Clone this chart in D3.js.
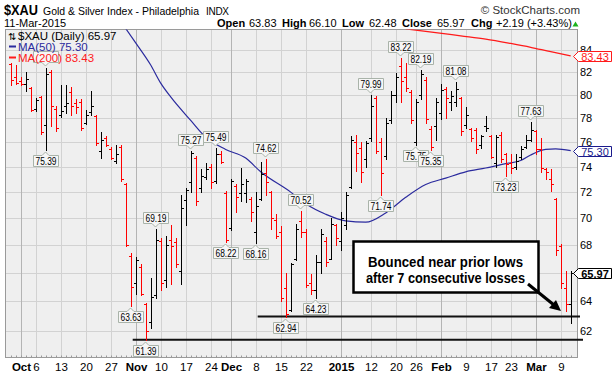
<!DOCTYPE html>
<html><head><meta charset="utf-8">
<script src="https://cdn.jsdelivr.net/npm/d3@7/dist/d3.min.js"></script>
<style>
html,body{margin:0;padding:0;background:#fff;}
svg{display:block;}
text{font-family:"Liberation Sans",Arial,sans-serif;}
</style></head><body>
<svg id="chart" width="613" height="375"></svg>
<script>
// ---------------- DATA ----------------
const startDate = "2014-09-29";
const holidays = ["2014-11-27","2014-12-25","2015-01-01","2015-01-19","2015-02-16"];
const priorClose = 83.0;
const opens = [82.7,81.5,81.2,80.9,80.6,
 78.8,79.8,77.4,82.0,78.8,78.3,79.0,80.2,79.3,79.4,
 77.6,78.5,78.2,75.3,76.3,75.4,74.5,75.6,72.6,67.2,
 65.3,66.4,63.8,62.6,64.4,68.3,65.5,68.4,68.2,66.1,
 71.4,72.8,74.7,72.3,73.2,74.0,72.9,75.0,71.9,69.3,
 72.5,71.9,71.9,71.5,69.0,71.5,73.5,72.0,69.9,69.0,
 64.9,63.4,67.0,69.8,69.0,65.3,64.8,66.8,68.3,67.0,
 69.5,68.3,69.5,72.4,76.0,75.5,74.6,76.3,79.7,76.0,
 74.9,77.8,80.0,82.5,81.5,80.2,76.0,80.0,81.3,77.1,
 77.3,78.4,80.5,79.4,79.4,79.7,77.4,77.1,77.0,75.8,
 77.3,76.5,74.3,76.6,75.0,74.3,74.0,74.8,75.6,76.2,
 76.9,75.4,73.8,73.0,71.5,67.9,64.9,63.83];
const highs = [82.8,82.6,81.5,82.0,80.7,
 79.7,79.9,82.35,82.2,79.0,80.8,80.8,80.7,79.6,79.6,
 78.7,80.3,78.3,76.8,76.5,75.6,75.8,75.8,72.7,67.4,
 67.1,66.6,63.9,65.6,69.19,68.5,68.7,69.5,68.5,71.8,
 72.3,75.27,74.9,73.8,74.3,74.2,75.49,75.3,72.1,73.0,
 72.6,73.9,73.0,71.6,72.0,74.4,74.62,72.1,70.3,69.4,
 66.0,66.7,69.6,70.52,69.2,65.9,67.3,69.2,68.6,70.0,
 69.6,70.5,72.0,76.5,76.6,76.0,76.1,79.99,79.9,76.3,
 78.0,80.3,81.9,83.22,82.8,80.4,79.6,82.19,81.5,77.3,
 79.7,80.9,80.7,80.3,81.08,79.8,78.9,77.2,77.2,76.6,
 78.2,76.6,76.6,76.8,75.1,75.0,75.0,75.7,76.6,77.63,
 77.0,76.3,73.9,73.8,71.55,68.04,66.1,66.10];
const lows = [80.8,80.9,80.8,80.3,78.6,
 78.6,76.7,75.39,77.3,76.9,78.1,78.4,78.3,78.4,77.0,
 77.5,78.3,75.8,74.7,75.7,74.6,74.3,72.9,67.9,63.63,
 64.5,64.4,61.39,62.2,64.2,64.8,65.0,65.2,66.4,65.2,
 69.5,72.0,71.0,72.0,73.0,72.3,72.7,74.3,68.22,69.1,
 70.5,71.3,71.2,69.8,68.16,71.4,71.8,69.2,68.5,64.0,
 62.94,63.3,66.9,68.6,65.0,64.5,64.23,66.0,66.5,67.0,
 68.0,67.6,69.2,72.3,73.7,72.8,74.0,76.1,75.1,71.74,
 74.6,77.6,79.4,79.4,80.3,77.6,75.75,79.6,77.6,75.35,
 76.2,77.9,78.0,78.7,79.0,76.6,77.2,76.1,75.1,75.5,
 76.9,74.7,74.0,74.4,73.23,73.5,73.8,74.6,75.5,76.1,
 75.0,73.6,73.0,72.1,67.3,64.9,63.3,62.48];
const closes = [81.3,81.0,80.9,81.4,78.7,
 79.5,76.8,81.8,79.0,77.2,78.6,79.3,79.0,78.9,77.2,
 78.3,79.0,75.9,76.2,75.8,74.7,75.0,73.0,68.0,65.0,
 66.9,64.5,62.0,64.3,68.4,65.3,68.0,67.9,66.6,70.8,
 72.2,75.1,71.3,73.3,73.8,72.8,75.0,74.4,68.4,72.9,
 71.6,72.6,72.9,70.5,70.9,73.4,72.8,70.0,68.7,64.2,
 63.1,66.6,69.2,69.0,65.1,64.8,66.8,68.8,66.8,69.6,
 68.5,70.0,71.8,76.2,75.1,73.6,75.9,79.0,75.3,73.5,
 77.6,80.0,81.5,81.2,80.6,77.8,79.4,81.8,77.9,75.6,
 79.4,80.4,79.7,79.9,80.5,76.9,78.3,76.3,75.4,76.5,
 77.2,74.8,76.4,74.6,74.2,73.9,74.5,75.4,76.2,77.0,
 75.4,73.9,73.6,72.6,67.6,65.3,63.78,65.97];

const ma50Dates = ["2014-10-24","2014-11-03","2014-11-06","2014-11-10","2014-11-12","2014-11-18","2014-11-21","2014-11-28","2014-12-04","2014-12-09","2014-12-17","2014-12-22","2014-12-29","2015-01-05","2015-01-09","2015-01-15","2015-01-22","2015-01-28","2015-02-03","2015-02-09","2015-02-13","2015-02-20","2015-02-25","2015-02-27","2015-03-04","2015-03-06","2015-03-11"];
const ma50Values = [88.6,84.6,82.6,81.0,79.8,77.8,76.4,75.4,74.7,73.6,72.0,71.1,70.3,69.8,69.7,70.4,71.6,72.6,73.1,73.6,73.9,74.25,74.5,74.95,75.4,75.45,75.30];
const ma200Dates = ["2015-01-22","2015-01-30","2015-02-06","2015-02-13","2015-02-23","2015-02-27","2015-03-05","2015-03-11"];
const ma200Values = [85.9,85.55,85.25,84.95,84.55,84.2,83.8,83.43];

const yTicks = [62,64,66,68,70,72,74,76,78,80,82,84];
const yTickLabels = ["62","64","","68","70","72","74","76","78","80","82","84"];
const xTickDates = ["2014-10-01","2014-10-06","2014-10-13","2014-10-20","2014-10-27","2014-11-03","2014-11-10","2014-11-17","2014-11-24","2014-12-01","2014-12-08","2014-12-15","2014-12-22","2015-01-02","2015-01-12","2015-01-20","2015-01-26","2015-02-02","2015-02-09","2015-02-17","2015-02-23","2015-03-02","2015-03-09"];
const xTickLabels = ["Oct","6","13","20","27","Nov","10","17","24","Dec","8","15","22","2015","12","20","26","Feb","9","17","23","Mar","9"];
const xTickBold = [1,0,0,0,0,1,0,0,0,1,0,0,0,1,0,0,0,1,0,0,0,1,0];

const highMarkDates = ["2014-11-07","2014-11-18","2014-11-25","2014-12-10","2014-12-19","2015-01-12","2015-01-21","2015-01-27","2015-02-05","2015-02-27"];
const hiddenHighMark = "2014-10-08";
const lowMarkDates = ["2014-10-08","2014-10-31","2014-11-05","2014-11-28","2014-12-08","2014-12-16","2014-12-24","2015-01-14","2015-01-26","2015-01-29","2015-02-20"];

const supportLevels = [62.94, 61.39];
const supportFrom = ["2014-12-08","2014-10-31"];
const noteLines = ["Bounced near prior lows","after 7 consecutive losses"];

// ---------------- CHART ----------------
function tradingDays(start, n, hol){
  const out=[]; const d=new Date(start+"T12:00:00Z");
  while(out.length<n){ const wd=d.getUTCDay(); const s=d.toISOString().slice(0,10);
    if(wd!==0&&wd!==6&&!hol.includes(s)) out.push(s); d.setUTCDate(d.getUTCDate()+1);}
  return out;
}
const dates = tradingDays(startDate, opens.length, holidays);
const kOf = d => dates.indexOf(d);

const svg = d3.select("#chart");
const P = {l:5.5, r:577.5, t:29.5, b:357.5};
const x = d3.scaleLinear().domain([0, dates.length-1]).range([10.7, 570.7]);
const y = d3.scaleLog().domain([62,84]).range([330.5,49.5]);
const px = k => Math.round(x(k)) + 0.5;
const py = v => Math.round(y(v)) + 0.5;

svg.append("defs").append("clipPath").attr("id","clip").append("rect")
  .attr("x",P.l).attr("y",P.t).attr("width",P.r-P.l).attr("height",P.b-P.t);

svg.append("rect").attr("x",P.l).attr("y",P.t).attr("width",P.r-P.l).attr("height",P.b-P.t)
  .attr("fill","#efefef");

svg.append("g").selectAll("line").data(yTicks).join("line")
  .attr("x1",P.l).attr("x2",P.r).attr("y1",d=>py(d)).attr("y2",d=>py(d))
  .attr("stroke","#d2d2d2").attr("stroke-width",1);
svg.append("g").selectAll("line").data(xTickDates).join("line")
  .attr("x1",d=>px(kOf(d))).attr("x2",d=>px(kOf(d))).attr("y1",P.t).attr("y2",P.b)
  .attr("stroke",(d,i)=>xTickBold[i]?"#b4b4b4":"#d2d2d2").attr("stroke-width",1);

svg.append("rect").attr("x",P.l).attr("y",P.t).attr("width",P.r-P.l).attr("height",P.b-P.t)
  .attr("fill","none").attr("stroke","#9a9a9a").attr("stroke-width",1);
svg.append("g").selectAll("line").data(dates).join("line")
  .attr("x1",(d,k)=>px(k)).attr("x2",(d,k)=>px(k)).attr("y1",P.b).attr("y2",P.b-2)
  .attr("stroke","#9a9a9a");

const lineGen = d3.line().x(d=>x(kOf(d[0]))).y(d=>y(d[1])).curve(d3.curveMonotoneX);
const gMA = svg.append("g").attr("clip-path","url(#clip)");
gMA.append("path").attr("d",lineGen(ma200Dates.map((d,i)=>[d,ma200Values[i]])))
  .attr("fill","none").attr("stroke","#ff1a1a").attr("stroke-width",1.2);
gMA.append("path").attr("d",lineGen(ma50Dates.map((d,i)=>[d,ma50Values[i]])))
  .attr("fill","none").attr("stroke","#2b2b9e").attr("stroke-width",1.2);

supportLevels.forEach((v,i)=>{
  svg.append("line").attr("x1",x(kOf(supportFrom[i]))+2).attr("x2",i===0?580:583)
    .attr("y1",y(v)).attr("y2",y(v)).attr("stroke","#111").attr("stroke-width",2);
});

const gBars = svg.append("g");
dates.forEach((d,k)=>{
  const prev = k===0?priorClose:closes[k-1];
  const col = closes[k]>=prev ? "#000000" : "#ff0000";
  const xx = px(k);
  gBars.append("line").attr("x1",xx).attr("x2",xx).attr("y1",Math.round(y(highs[k]))).attr("y2",Math.round(y(lows[k]))+1)
    .attr("stroke",col).attr("stroke-width",1);
  gBars.append("line").attr("x1",xx-2.5).attr("x2",xx).attr("y1",py(opens[k])).attr("y2",py(opens[k]))
    .attr("stroke",col).attr("stroke-width",1);
  gBars.append("line").attr("x1",xx).attr("x2",xx+2.5).attr("y1",py(closes[k])).attr("y2",py(closes[k]))
    .attr("stroke",col).attr("stroke-width",1);
});

function callout(k, val, isHigh, showText){
  const cx = px(k)-1;
  const yv = y(val);
  const g = svg.append("g");
  const w = 25, h = 11;
  const l = Math.round(cx-w/2)+0.5, r = l+w;
  let path, ty;
  if(isHigh){
    const b = Math.round(yv-6)+0.5, tp=b-h;
    path = `M${l},${tp}H${r}V${b}H${cx+3.5}L${cx},${b+3.5}L${cx-3.5},${b}H${l}Z`;
    ty = tp+h/2+0.5;
  } else {
    const tp = Math.round(yv+5)+0.5, b=tp+h;
    path = `M${l},${tp}H${cx-3.5}L${cx},${tp-3.5}L${cx+3.5},${tp}H${r}V${b}H${l}Z`;
    ty = tp+h/2+0.5;
  }
  g.append("path").attr("d",path).attr("fill","#f6f6f6").attr("stroke","#a9b3a9").attr("stroke-width",1);
  if(showText) g.append("text").text(val.toFixed(2)).attr("font-size",10).attr("text-anchor","middle")
    .attr("x",(l+r)/2).attr("y",ty).attr("dominant-baseline","central").attr("fill","#000")
    .attr("textLength",21).attr("lengthAdjust","spacingAndGlyphs");
}
callout(kOf(hiddenHighMark), highs[kOf(hiddenHighMark)], true, false);
highMarkDates.forEach(d=>{const k=kOf(d); callout(k, highs[k], true, true);});
lowMarkDates.forEach(d=>{const k=kOf(d); callout(k, lows[k], false, true);});

// annotation box + arrow
svg.append("rect").attr("x",353.5).attr("y",241.5).attr("width",185).attr("height",51)
  .attr("fill","#fff").attr("stroke","#000").attr("stroke-width",2.5);
noteLines.forEach((s,i)=>{
  svg.append("text").text(s).attr("x",445.5).attr("y",[261.5,277.5][i]).attr("dominant-baseline","central")
    .attr("text-anchor","middle").attr("font-weight","bold").attr("font-size",15)
    .attr("textLength",[155,159][i]).attr("lengthAdjust","spacingAndGlyphs");
});
svg.append("line").attr("x1",528).attr("y1",284).attr("x2",554).attr("y2",305)
  .attr("stroke","#000").attr("stroke-width",3);
svg.append("path").attr("d","M561,311 L549,308 L556,300 Z").attr("fill","#000");

// legend
svg.append("text").text("⇅").attr("x",8).attr("y",39.5).attr("font-size",10).attr("font-family","DejaVu Sans");
svg.append("text").text("$XAU (Daily) 65.97").attr("x",18).attr("y",39.5).attr("font-size",11.5);
svg.append("line").attr("x1",9).attr("x2",16).attr("y1",46.5).attr("y2",46.5).attr("stroke","#2b2b9e").attr("stroke-width",2);
svg.append("text").text("MA(50) 75.30").attr("x",18).attr("y",50.5).attr("font-size",11.5).attr("fill","#2b2b9e");
svg.append("line").attr("x1",9).attr("x2",16).attr("y1",57.5).attr("y2",57.5).attr("stroke","#ff1a1a").attr("stroke-width",2);
svg.append("text").text("MA(200) 83.43").attr("x",18).attr("y",61.5).attr("font-size",11.5).attr("fill","#ff1a1a");

// y axis labels
svg.append("g").selectAll("text").data(yTicks).join("text")
  .text((d,i)=>yTickLabels[i]).attr("x",580).attr("y",d=>y(d)).attr("dominant-baseline","central")
  .attr("font-size",11).attr("fill","#000");

function tag(v, col, bold){
  const yc = Math.round(y(v))+0.5;
  svg.append("path").attr("d",`M573.5,${yc}L578.5,${yc-5}H611.5V${yc+5}H578.5Z`)
    .attr("fill","#fff").attr("stroke",col).attr("stroke-width",1);
  svg.append("text").text(v.toFixed(2)).attr("x",595).attr("y",yc).attr("text-anchor","middle")
    .attr("dominant-baseline","central").attr("font-size",11).attr("fill",col).attr("font-weight",bold?"bold":"normal");
}
tag(83.43,"#ff1a1a",false);
tag(75.30,"#1a1a8c",false);
tag(65.97,"#000",true);

svg.append("g").selectAll("text").data(xTickDates).join("text")
  .text((d,i)=>xTickLabels[i]).attr("x",d=>px(kOf(d))).attr("y",367)
  .attr("text-anchor","middle").attr("dominant-baseline","central")
  .attr("font-size",11.5).attr("font-weight",(d,i)=>xTickBold[i]?"bold":"normal");

// header
svg.append("text").text("$XAU").attr("x",4).attr("y",14.5).attr("font-size",15).attr("font-weight","bold")
  .attr("textLength",34).attr("lengthAdjust","spacingAndGlyphs");
svg.append("text").text("Gold & Silver Index - Philadelphia").attr("x",43).attr("y",14.5).attr("font-size",11)
  .attr("textLength",156).attr("lengthAdjust","spacingAndGlyphs");
svg.append("text").text("INDX").attr("x",206).attr("y",14.5).attr("font-size",10).attr("textLength",23);
svg.append("text").text("© StockCharts.com").attr("x",580).attr("y",14).attr("font-size",11.5)
  .attr("text-anchor","end").attr("fill","#333");
svg.append("text").text("11-Mar-2015").attr("x",4).attr("y",27).attr("font-size",11);
const ohlc = [["Open",1,217],["63.83",0,249],["High",1,282],["66.10",0,309],["Low",1,342],["62.48",0,369],
  ["Close",1,402],["65.97",0,437],["Chg",1,471],["+2.19 (+3.43%)",0,496]];
ohlc.forEach(o=>svg.append("text").text(o[0]).attr("x",o[2]).attr("y",27).attr("font-size",11)
  .attr("font-weight",o[1]?"bold":"normal"));
svg.append("path").attr("d","M572.5,26.5L578.5,26.5L575.5,21.5Z").attr("fill","#1db31d");
</script>
</body></html>
